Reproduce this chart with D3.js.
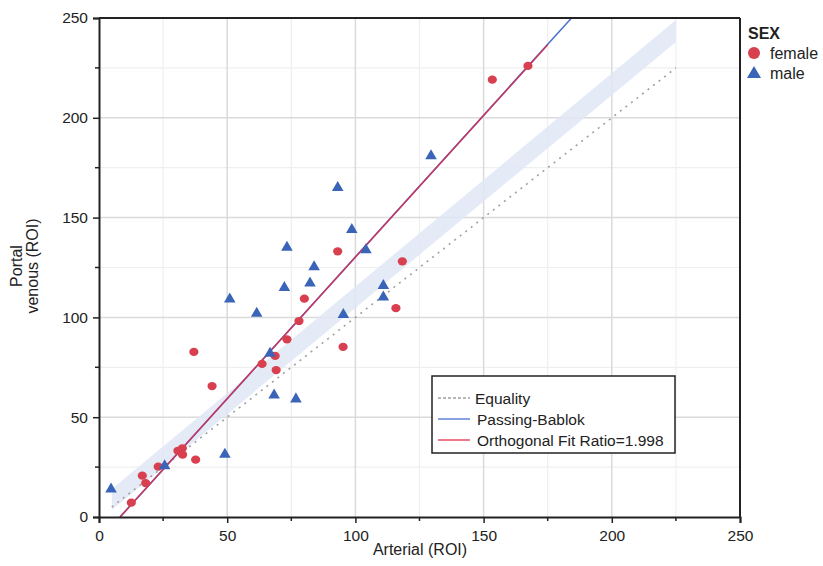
<!DOCTYPE html>
<html>
<head>
<meta charset="utf-8">
<script src="https://cdn.jsdelivr.net/npm/d3@7"></script>
<style>
  body { margin: 0; background: #fff; }
  text { font-family: "Liberation Sans", Arial, sans-serif; }
</style>
</head>
<body>
<div id="chart"></div>
<script>
// data
const femaleX = [12.6, 16.9, 18.2, 23.1, 30.8, 32.5, 32.6, 37.7, 37, 44.1, 63.6, 68.7, 69.1, 73.3, 78, 80.1, 93.1, 95.2, 115.8, 118.3, 153.4, 167.3];
const femaleY = [7.2, 20.7, 17, 25.2, 33.2, 34.4, 31.2, 28.7, 82.7, 65.6, 76.7, 80.7, 73.6, 89, 98.2, 109.4, 133.1, 85.2, 104.6, 128.1, 219.1, 226];
const maleX = [4.7, 25.6, 49.1, 68.3, 76.8, 66.7, 61.5, 51, 72.3, 82.3, 73.3, 83.9, 93.1, 98.6, 104.1, 95.3, 110.9, 110.9, 129.5];
const maleY = [13.9, 25.6, 31.4, 61, 59.1, 82, 102, 109.1, 114.9, 117.1, 135.1, 125.3, 165, 143.9, 133.8, 101.4, 115.9, 110.1, 180.9];

const equalityRange = [5, 225];
const bandX = [5, 225];
const bandLow = [3.5, 238];
const bandHigh = [14, 249];
// fitted lines: intercept, slope, x range
const pbFit = { a: -11.7, b: 1.42, x: [8.2, 200] };
const orthoFit = { a: -11.6, b: 1.418, x: [8.2, 175] };

const ticks = [0, 50, 100, 150, 200, 250];
const minorTicks = [25, 75, 125, 175, 225];
const legendItems = ["Equality", "Passing-Bablok", "Orthogonal Fit Ratio=1.998"];
const sexItems = ["female", "male"];

const W = 823, H = 566;
const mLeft = 99, mTop = 18, mRight = 740, mBottom = 517;

const svg = d3.select("#chart").append("svg").attr("width", W).attr("height", H);

const x = d3.scaleLinear().domain([0, 250]).range([mLeft, mRight]);
const y = d3.scaleLinear().domain([0, 250]).range([mBottom, mTop]);

svg.append("clipPath").attr("id", "clip").append("rect")
    .attr("x", mLeft).attr("y", mTop).attr("width", mRight - mLeft).attr("height", mBottom - mTop);

// grid
const grid = svg.append("g");
grid.selectAll(".vmin").data(minorTicks).enter().append("line")
    .attr("x1", d => x(d)).attr("x2", d => x(d)).attr("y1", mTop).attr("y2", mBottom)
    .attr("stroke", "#efefef").attr("stroke-width", 1.2);
grid.selectAll(".hmin").data(minorTicks).enter().append("line")
    .attr("y1", d => y(d)).attr("y2", d => y(d)).attr("x1", mLeft).attr("x2", mRight)
    .attr("stroke", "#efefef").attr("stroke-width", 1.2);
grid.selectAll(".vmaj").data(ticks.slice(1, -1)).enter().append("line")
    .attr("x1", d => x(d)).attr("x2", d => x(d)).attr("y1", mTop).attr("y2", mBottom)
    .attr("stroke", "#dadada").attr("stroke-width", 1.5);
grid.selectAll(".hmaj").data(ticks.slice(1, -1)).enter().append("line")
    .attr("y1", d => y(d)).attr("y2", d => y(d)).attr("x1", mLeft).attr("x2", mRight)
    .attr("stroke", "#dadada").attr("stroke-width", 1.5);

const plot = svg.append("g").attr("clip-path", "url(#clip)");

// confidence band
const bandData = bandX.map((v, i) => ({ x: v, lo: bandLow[i], hi: bandHigh[i] }));
plot.append("path").datum(bandData)
    .attr("fill", "#dfe7f6").attr("fill-opacity", 0.85)
    .attr("d", d3.area().x(d => x(d.x)).y0(d => y(d.lo)).y1(d => y(d.hi)));

// equality
plot.append("line")
    .attr("x1", x(equalityRange[0])).attr("y1", y(equalityRange[0]))
    .attr("x2", x(equalityRange[1])).attr("y2", y(equalityRange[1]))
    .attr("stroke", "#a0a0a0").attr("stroke-width", 1.6).attr("stroke-dasharray", "2,5");

// passing-bablok and orthogonal fit
function fitLine(f, color) {
    plot.append("line")
        .attr("x1", x(f.x[0])).attr("y1", y(f.a + f.b * f.x[0]))
        .attr("x2", x(f.x[1])).attr("y2", y(f.a + f.b * f.x[1]))
        .attr("stroke", color).attr("stroke-width", 1.5);
}
fitLine(pbFit, "#4a6fd0");
fitLine(orthoFit, "#c8365e");

// points
const females = femaleX.map((v, i) => [v, femaleY[i]]);
const males = maleX.map((v, i) => [v, maleY[i]]);
plot.selectAll(".f").data(females).enter().append("ellipse")
    .attr("cx", d => x(d[0])).attr("cy", d => y(d[1]))
    .attr("rx", 4.6).attr("ry", 4.1).attr("fill", "#d83f4f");
const tri = d3.symbol().type(d3.symbolTriangle).size(58);
plot.selectAll(".m").data(males).enter().append("path")
    .attr("transform", d => "translate(" + x(d[0]) + "," + y(d[1]) + ")")
    .attr("d", tri).attr("fill", "#3a64b8");

// axes
const xAxis = svg.append("g").attr("transform", "translate(0," + mBottom + ")")
    .call(d3.axisBottom(x).tickValues(ticks).tickSize(6).tickPadding(7).tickFormat(d3.format("d")));
const yAxis = svg.append("g").attr("transform", "translate(" + mLeft + ",0)")
    .call(d3.axisLeft(y).tickValues(ticks).tickSize(6).tickPadding(5).tickFormat(d3.format("d")));
[xAxis, yAxis].forEach(a => {
    a.select(".domain").attr("stroke", "#222").attr("stroke-width", 2);
    a.selectAll(".tick line").attr("stroke", "#222").attr("stroke-width", 1.5);
    a.selectAll(".tick text").attr("font-size", 15.5).attr("fill", "#222")
        .style("font-family", "'Liberation Sans', Arial, sans-serif");
});
svg.append("g").attr("transform", "translate(0," + mBottom + ")")
    .selectAll("line").data(minorTicks).enter().append("line")
    .attr("x1", d => x(d)).attr("x2", d => x(d)).attr("y1", 0).attr("y2", 4)
    .attr("stroke", "#222").attr("stroke-width", 1.5);
svg.append("g").selectAll("line").data(minorTicks).enter().append("line")
    .attr("y1", d => y(d)).attr("y2", d => y(d)).attr("x1", mLeft - 4).attr("x2", mLeft)
    .attr("stroke", "#222").attr("stroke-width", 1.5);
// top and right frame
svg.append("line").attr("x1", mLeft).attr("x2", mRight).attr("y1", mTop).attr("y2", mTop)
    .attr("stroke", "#222").attr("stroke-width", 2);
svg.append("line").attr("x1", mRight).attr("x2", mRight).attr("y1", mTop).attr("y2", mBottom)
    .attr("stroke", "#222").attr("stroke-width", 2);

// axis titles
svg.append("text").attr("x", 420).attr("y", 555)
    .attr("text-anchor", "middle").attr("font-size", 16).attr("fill", "#222").text("Arterial (ROI)");
const yt = svg.append("text").attr("transform", "translate(22," + 266 + ") rotate(-90)")
    .attr("text-anchor", "middle").attr("font-size", 16).attr("fill", "#222");
yt.append("tspan").attr("x", 0).attr("dy", 0).text("Portal");
yt.append("tspan").attr("x", 0).attr("dy", 16).text("venous (ROI)");

// line legend
const lg = svg.append("g").attr("transform", "translate(432,376)");
lg.append("rect").attr("width", 243).attr("height", 77).attr("fill", "#fff")
    .attr("stroke", "#222").attr("stroke-width", 1.5);
const lgStyles = [
    { c: "#a0a0a0", dash: "3,2" },
    { c: "#4a6fd0", dash: null },
    { c: "#e0304a", dash: null }
];
legendItems.forEach((t, i) => {
    const yy = 22 + i * 21;
    lg.append("line").attr("x1", 6).attr("x2", 38).attr("y1", yy).attr("y2", yy)
        .attr("stroke", lgStyles[i].c).attr("stroke-width", 1.3)
        .attr("stroke-dasharray", lgStyles[i].dash);
    lg.append("text").attr("x", i === 0 ? 43 : 45).attr("y", yy + 6)
        .attr("font-size", 15.5).attr("fill", "#222").text(t);
});

// SEX legend
const sg = svg.append("g").attr("transform", "translate(748,0)");
sg.append("text").attr("x", 0).attr("y", 39).attr("font-size", 16).attr("font-weight", "bold")
    .attr("fill", "#222").text("SEX");
sexItems.forEach((t, i) => {
    const yy = 53 + i * 20;
    if (i === 0) {
        sg.append("circle").attr("cx", 6).attr("cy", yy).attr("r", 6).attr("fill", "#d83f4f");
    } else {
        sg.append("path").attr("transform", "translate(6," + (yy + 1) + ")")
            .attr("d", d3.symbol().type(d3.symbolTriangle).size(85)).attr("fill", "#3a64b8");
    }
    sg.append("text").attr("x", 22).attr("y", yy + 6).attr("font-size", 16).attr("fill", "#222").text(t);
});
</script>
</body>
</html>
